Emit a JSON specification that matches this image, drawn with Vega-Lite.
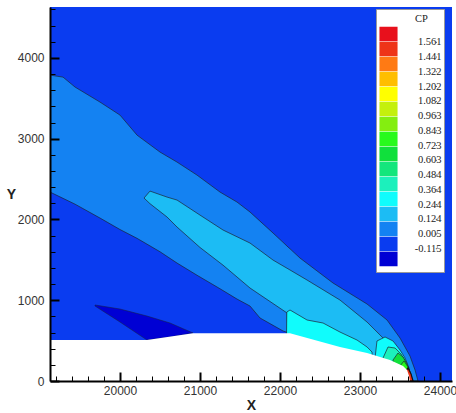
{
  "$schema": "https://vega.github.io/schema/vega-lite/v6.json",
  "width": 402,
  "height": 374,
  "autosize": "none",
  "padding": {"left": 50, "top": 7, "right": 4, "bottom": 32},
  "background": "white",
  "config": {"view": {"stroke": null}},
  "data": {"values": [
    {"reg": "bg", "cp": "-0.115", "x": 19125, "lo": 0, "hi": 4630},
    {"reg": "bg", "cp": "-0.115", "x": 24150, "lo": 0, "hi": 4630},

    {"reg": "L1", "cp": "0.005", "x": 19125, "lo": 2339, "hi": 3787},
    {"reg": "L1", "cp": "0.005", "x": 19288, "lo": 2261, "hi": 3762},
    {"reg": "L1", "cp": "0.005", "x": 19438, "lo": 2189, "hi": 3639},
    {"reg": "L1", "cp": "0.005", "x": 19750, "lo": 2017, "hi": 3453},
    {"reg": "L1", "cp": "0.005", "x": 20000, "lo": 1875, "hi": 3292},
    {"reg": "L1", "cp": "0.005", "x": 20213, "lo": 1766, "hi": 3044},
    {"reg": "L1", "cp": "0.005", "x": 20500, "lo": 1600, "hi": 2834},
    {"reg": "L1", "cp": "0.005", "x": 20713, "lo": 1460, "hi": 2710},
    {"reg": "L1", "cp": "0.005", "x": 20963, "lo": 1309, "hi": 2549},
    {"reg": "L1", "cp": "0.005", "x": 21250, "lo": 1142, "hi": 2339},
    {"reg": "L1", "cp": "0.005", "x": 21463, "lo": 1014, "hi": 2215},
    {"reg": "L1", "cp": "0.005", "x": 21625, "lo": 928, "hi": 2092},
    {"reg": "L1", "cp": "0.005", "x": 21750, "lo": 780, "hi": 1979},
    {"reg": "L1", "cp": "0.005", "x": 21913, "lo": 689, "hi": 1832},
    {"reg": "L1", "cp": "0.005", "x": 22038, "lo": 619, "hi": 1717},
    {"reg": "L1", "cp": "0.005", "x": 22112, "lo": 594, "hi": 1648},
    {"reg": "L1", "cp": "0.005", "x": 22125, "lo": 0, "hi": 1637},
    {"reg": "L1", "cp": "0.005", "x": 22250, "lo": 0, "hi": 1522},
    {"reg": "L1", "cp": "0.005", "x": 22663, "lo": 0, "hi": 1213},
    {"reg": "L1", "cp": "0.005", "x": 23088, "lo": 0, "hi": 953},
    {"reg": "L1", "cp": "0.005", "x": 23338, "lo": 0, "hi": 755},
    {"reg": "L1", "cp": "0.005", "x": 23500, "lo": 0, "hi": 532},
    {"reg": "L1", "cp": "0.005", "x": 23625, "lo": 0, "hi": 309},
    {"reg": "L1", "cp": "0.005", "x": 23688, "lo": 0, "hi": 136},
    {"reg": "L1", "cp": "0.005", "x": 23725, "lo": 0, "hi": 0},

    {"reg": "L2", "cp": "0.124", "x": 20300, "lo": 2265, "hi": 2265},
    {"reg": "L2", "cp": "0.124", "x": 20375, "lo": 2195, "hi": 2351},
    {"reg": "L2", "cp": "0.124", "x": 20588, "lo": 2030, "hi": 2277},
    {"reg": "L2", "cp": "0.124", "x": 20713, "lo": 1906, "hi": 2240},
    {"reg": "L2", "cp": "0.124", "x": 21000, "lo": 1653, "hi": 2054},
    {"reg": "L2", "cp": "0.124", "x": 21288, "lo": 1434, "hi": 1869},
    {"reg": "L2", "cp": "0.124", "x": 21625, "lo": 1151, "hi": 1708},
    {"reg": "L2", "cp": "0.124", "x": 21913, "lo": 959, "hi": 1497},
    {"reg": "L2", "cp": "0.124", "x": 22088, "lo": 842, "hi": 1396},
    {"reg": "L2", "cp": "0.124", "x": 22100, "lo": 0, "hi": 1389},
    {"reg": "L2", "cp": "0.124", "x": 22338, "lo": 0, "hi": 1250},
    {"reg": "L2", "cp": "0.124", "x": 22750, "lo": 0, "hi": 1002},
    {"reg": "L2", "cp": "0.124", "x": 23088, "lo": 0, "hi": 730},
    {"reg": "L2", "cp": "0.124", "x": 23288, "lo": 0, "hi": 532},
    {"reg": "L2", "cp": "0.124", "x": 23413, "lo": 0, "hi": 384},
    {"reg": "L2", "cp": "0.124", "x": 23538, "lo": 0, "hi": 210},
    {"reg": "L2", "cp": "0.124", "x": 23613, "lo": 0, "hi": 0},

    {"reg": "D", "cp": "min", "x": 19688, "lo": 928, "hi": 941},
    {"reg": "D", "cp": "min", "x": 20000, "lo": 730, "hi": 891},
    {"reg": "D", "cp": "min", "x": 20338, "lo": 507, "hi": 804},
    {"reg": "D", "cp": "min", "x": 20625, "lo": 545, "hi": 718},
    {"reg": "D", "cp": "min", "x": 20913, "lo": 594, "hi": 594},

    {"reg": "L3a", "cp": "0.244", "x": 22075, "lo": 0, "hi": 0},
    {"reg": "L3a", "cp": "0.244", "x": 22085, "lo": 0, "hi": 854},
    {"reg": "L3a", "cp": "0.244", "x": 22125, "lo": 0, "hi": 879},
    {"reg": "L3a", "cp": "0.244", "x": 22338, "lo": 0, "hi": 755},
    {"reg": "L3a", "cp": "0.244", "x": 22538, "lo": 0, "hi": 718},
    {"reg": "L3a", "cp": "0.244", "x": 22750, "lo": 0, "hi": 606},
    {"reg": "L3a", "cp": "0.244", "x": 22963, "lo": 0, "hi": 507},
    {"reg": "L3a", "cp": "0.244", "x": 23088, "lo": 0, "hi": 421},
    {"reg": "L3a", "cp": "0.244", "x": 23150, "lo": 0, "hi": 359},
    {"reg": "L3a", "cp": "0.244", "x": 23175, "lo": 0, "hi": 0},

    {"reg": "L3b", "cp": "0.244", "x": 23190, "lo": 0, "hi": 300},
    {"reg": "L3b", "cp": "0.244", "x": 23212, "lo": 0, "hi": 495},
    {"reg": "L3b", "cp": "0.244", "x": 23313, "lo": 0, "hi": 545},
    {"reg": "L3b", "cp": "0.244", "x": 23413, "lo": 0, "hi": 495},
    {"reg": "L3b", "cp": "0.244", "x": 23500, "lo": 0, "hi": 384},
    {"reg": "L3b", "cp": "0.244", "x": 23563, "lo": 0, "hi": 285},
    {"reg": "L3b", "cp": "0.244", "x": 23613, "lo": 0, "hi": 161},
    {"reg": "L3b", "cp": "0.244", "x": 23638, "lo": 0, "hi": 0},

    {"reg": "L4", "cp": "0.364", "x": 23288, "lo": 0, "hi": 285},
    {"reg": "L4", "cp": "0.364", "x": 23350, "lo": 0, "hi": 421},
    {"reg": "L4", "cp": "0.364", "x": 23438, "lo": 0, "hi": 408},
    {"reg": "L4", "cp": "0.364", "x": 23513, "lo": 0, "hi": 334},
    {"reg": "L4", "cp": "0.364", "x": 23575, "lo": 0, "hi": 235},
    {"reg": "L4", "cp": "0.364", "x": 23625, "lo": 0, "hi": 111},
    {"reg": "L4", "cp": "0.364", "x": 23650, "lo": 0, "hi": 0},

    {"reg": "L6", "cp": "0.603", "x": 23413, "lo": 0, "hi": 260},
    {"reg": "L6", "cp": "0.603", "x": 23475, "lo": 0, "hi": 347},
    {"reg": "L6", "cp": "0.603", "x": 23538, "lo": 0, "hi": 297},
    {"reg": "L6", "cp": "0.603", "x": 23588, "lo": 0, "hi": 210},
    {"reg": "L6", "cp": "0.603", "x": 23625, "lo": 0, "hi": 99},
    {"reg": "L6", "cp": "0.603", "x": 23650, "lo": 0, "hi": 0},

    {"reg": "L7", "cp": "0.723", "x": 23500, "lo": 0, "hi": 186},
    {"reg": "L7", "cp": "0.723", "x": 23550, "lo": 0, "hi": 248},
    {"reg": "L7", "cp": "0.723", "x": 23600, "lo": 0, "hi": 173},
    {"reg": "L7", "cp": "0.723", "x": 23638, "lo": 0, "hi": 74},
    {"reg": "L7", "cp": "0.723", "x": 23655, "lo": 0, "hi": 0},

    {"reg": "R", "cp": "1.441", "x": 23563, "lo": 0, "hi": 111},
    {"reg": "R", "cp": "1.441", "x": 23600, "lo": 0, "hi": 161},
    {"reg": "R", "cp": "1.441", "x": 23638, "lo": 0, "hi": 87},
    {"reg": "R", "cp": "1.441", "x": 23663, "lo": 0, "hi": 0},

    {"reg": "body", "cp": "body", "x": 19125, "lo": 0, "hi": 507},
    {"reg": "body", "cp": "body", "x": 20338, "lo": 0, "hi": 507},
    {"reg": "body", "cp": "body", "x": 20913, "lo": 0, "hi": 590},
    {"reg": "body", "cp": "body", "x": 22125, "lo": 0, "hi": 590},
    {"reg": "body", "cp": "body", "x": 22750, "lo": 0, "hi": 421},
    {"reg": "body", "cp": "body", "x": 23088, "lo": 0, "hi": 347},
    {"reg": "body", "cp": "body", "x": 23375, "lo": 0, "hi": 260},
    {"reg": "body", "cp": "body", "x": 23538, "lo": 0, "hi": 186},
    {"reg": "body", "cp": "body", "x": 23588, "lo": 0, "hi": 136},
    {"reg": "body", "cp": "body", "x": 23613, "lo": 0, "hi": 62},
    {"reg": "body", "cp": "body", "x": 23625, "lo": 0, "hi": 0}
  ]},
  "encoding": {
    "x": {
      "field": "x", "type": "quantitative",
      "scale": {"domain": [19125, 24150], "nice": false, "zero": false},
      "axis": {
        "title": "X",
        "zindex": 1,
        "values": [19200, 19400, 19600, 19800, 20000, 20200, 20400, 20600, 20800, 21000, 21200, 21400, 21600, 21800, 22000, 22200, 22400, 22600, 22800, 23000, 23200, 23400, 23600, 23800, 24000],
        "labelExpr": "datum.value % 1000 === 0 ? format(datum.value, 'd') : ''",
        "tickSize": {"condition": {"test": "datum.value % 1000 === 0", "value": -9}, "value": -5},
        "tickWidth": {"condition": {"test": "datum.value % 1000 === 0", "value": 2}, "value": 1},
        "tickColor": "black",
        "domainColor": "black",
        "domainWidth": 2,
        "grid": false,
        "labelFont": "Liberation Sans",
        "labelFontSize": 12,
        "labelColor": "#333333",
        "labelPadding": 13.5,
        "labelOverlap": false,
        "labelFlush": false,
        "titleFont": "Liberation Sans",
        "titleFontSize": 14,
        "titleFontWeight": "bold",
        "titleColor": "#222222",
        "titleX": 201,
        "titleY": 24,
        "titleAlign": "center",
        "titleBaseline": "middle"
      }
    },
    "y": {
      "field": "lo", "type": "quantitative",
      "scale": {"domain": [0, 4630], "nice": false},
      "axis": {
        "title": "Y",
        "zindex": 1,
        "values": [0, 200, 400, 600, 800, 1000, 1200, 1400, 1600, 1800, 2000, 2200, 2400, 2600, 2800, 3000, 3200, 3400, 3600, 3800, 4000, 4200, 4400, 4600],
        "labelExpr": "datum.value % 1000 === 0 ? format(datum.value, 'd') : ''",
        "tickSize": {"condition": {"test": "datum.value % 1000 === 0", "value": -9}, "value": -5},
        "tickWidth": {"condition": {"test": "datum.value % 1000 === 0", "value": 2}, "value": 1},
        "tickColor": "black",
        "domainColor": "black",
        "domainWidth": 2,
        "grid": false,
        "labelFont": "Liberation Sans",
        "labelFontSize": 12,
        "labelColor": "#333333",
        "labelPadding": 15,
        "labelOverlap": false,
        "labelFlush": false,
        "titleFont": "Liberation Sans",
        "titleFontSize": 14,
        "titleFontWeight": "bold",
        "titleColor": "#222222",
        "titleAngle": 0,
        "titleX": -39,
        "titleY": 187,
        "titleAlign": "center",
        "titleBaseline": "middle"
      }
    },
    "y2": {"field": "hi"},
    "color": {
      "field": "cp", "type": "nominal",
      "scale": {
        "domain": ["1.561", "1.441", "1.322", "1.202", "1.082", "0.963", "0.843", "0.723", "0.603", "0.484", "0.364", "0.244", "0.124", "0.005", "-0.115", "min"],
        "range": ["#e8101c", "#ee3418", "#ff7a14", "#ffbe00", "#ffff00", "#c4f00c", "#84ee10", "#28fa1c", "#10e03c", "#14e67c", "#1cf0bc", "#10fcfc", "#1cbcf4", "#1482f2", "#0a3cf0", "#0000d4"]
      },
      "legend": {
        "orient": "none",
        "legendX": 326,
        "legendY": 2,
        "title": "CP",
        "titleFont": "Liberation Serif",
        "titleFontSize": 10.5,
        "titleFontWeight": "normal",
        "titleColor": "#222222",
        "titlePadding": 2,
        "labelFontSize": 1,
        "labelExpr": "' '",
        "labelOffset": 0,
        "symbolType": "M-1.266,-1H1.266V1H-1.266ZM6.93,0",
        "symbolSize": 204.5,
        "symbolStrokeWidth": 0,
        "symbolOpacity": 1,
        "rowPadding": 0,
        "fillColor": "white",
        "strokeColor": "#999999",
        "padding": 5,
        "encode": {
          "title": {"update": {"dx": {"value": 34}}}
        }
      }
    },
    "opacity": {
      "field": "cp", "type": "nominal",
      "scale": {
        "domain": ["1.561", "1.441", "1.322", "1.202", "1.082", "0.963", "0.843", "0.723", "0.603", "0.484", "0.364", "0.244", "0.124", "0.005", "-0.115"],
        "range": [1, 1]
      },
      "legend": {
        "orient": "none",
        "legendX": 381,
        "legendY": 30,
        "title": null,
        "labelFont": "Liberation Serif",
        "labelFontSize": 10.5,
        "labelColor": "#222222",
        "labelAlign": "right",
        "labelOffset": 0,
        "symbolSize": 1,
        "symbolOpacity": 0,
        "symbolStrokeWidth": 0,
        "rowPadding": 3.75,
        "padding": 0
      }
    }
  },
  "layer": [
    {"transform": [{"filter": "datum.reg === 'bg'"}], "mark": {"type": "area", "clip": true}},
    {"transform": [{"filter": "datum.reg === 'L1'"}], "mark": {"type": "area", "clip": true, "stroke": "#1b2233", "strokeWidth": 0.7}},
    {"transform": [{"filter": "datum.reg === 'L2'"}], "mark": {"type": "area", "clip": true, "stroke": "#1b2233", "strokeWidth": 0.7}},
    {"transform": [{"filter": "datum.reg === 'D'"}], "mark": {"type": "area", "clip": true, "stroke": "#1b2233", "strokeWidth": 0.5}},
    {"transform": [{"filter": "datum.reg === 'L3a'"}], "mark": {"type": "area", "clip": true, "stroke": "#1b2233", "strokeWidth": 0.7}},
    {"transform": [{"filter": "datum.reg === 'L3b'"}], "mark": {"type": "area", "clip": true, "stroke": "#1b2233", "strokeWidth": 0.7}},
    {"transform": [{"filter": "datum.reg === 'L4'"}], "mark": {"type": "area", "clip": true, "stroke": "#1b2233", "strokeWidth": 0.7}},
    {"transform": [{"filter": "datum.reg === 'L6'"}], "mark": {"type": "area", "clip": true, "stroke": "#1b2233", "strokeWidth": 0.7}},
    {"transform": [{"filter": "datum.reg === 'L7'"}], "mark": {"type": "area", "clip": true, "stroke": "#1b2233", "strokeWidth": 0.7}},
    {"transform": [{"filter": "datum.reg === 'R'"}], "mark": {"type": "area", "clip": true, "stroke": "#111111", "strokeWidth": 1.2}},
    {"transform": [{"filter": "datum.reg === 'body'"}], "mark": {"type": "area", "clip": true}, "encoding": {"color": {"value": "white"}, "opacity": {"value": 1}}}
  ]
}
